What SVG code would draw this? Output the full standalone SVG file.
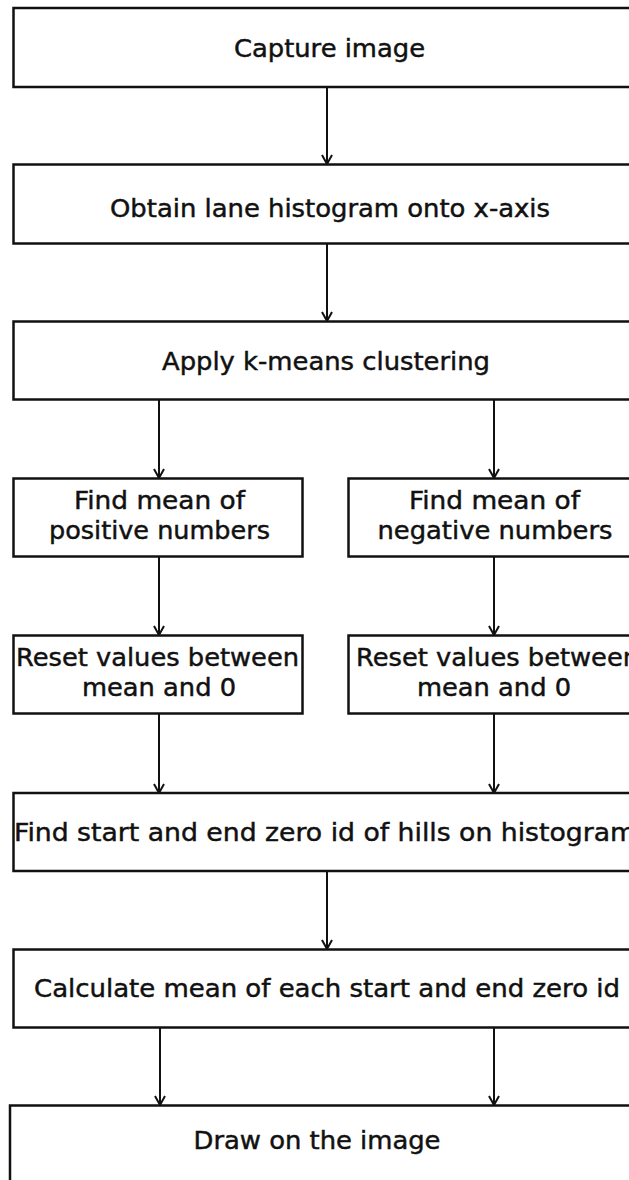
<svg xmlns="http://www.w3.org/2000/svg" width="629" height="1180" viewBox="0 0 629 1180">
<style>
.box{fill:#fff;stroke:#111;stroke-width:2.5}
.t{font-family:"DejaVu Sans",Verdana,sans-serif;font-size:24px;fill:#111;stroke:#111;stroke-width:0.45;text-anchor:middle}
.c{stroke:#111;stroke-width:2;fill:none}
</style>
<defs>
<marker id="ah" markerWidth="12" markerHeight="12" refX="10" refY="6" orient="auto" markerUnits="userSpaceOnUse" viewBox="0 0 12 12">
<path d="M1,1 L10,6 L1,11" fill="none" stroke="#111" stroke-width="2"/>
</marker>
</defs>
<rect width="629" height="1180" fill="#fff"/>
<g id="connectors">
<line class="c" x1="327" y1="87" x2="327" y2="164" marker-end="url(#ah)"/>
<line class="c" x1="327" y1="243" x2="327" y2="321" marker-end="url(#ah)"/>
<line class="c" x1="159" y1="399" x2="159" y2="478" marker-end="url(#ah)"/>
<line class="c" x1="494" y1="399" x2="494" y2="478" marker-end="url(#ah)"/>
<line class="c" x1="159" y1="556" x2="159" y2="635" marker-end="url(#ah)"/>
<line class="c" x1="494" y1="556" x2="494" y2="635" marker-end="url(#ah)"/>
<line class="c" x1="159" y1="714" x2="159" y2="793" marker-end="url(#ah)"/>
<line class="c" x1="494" y1="714" x2="494" y2="793" marker-end="url(#ah)"/>
<line class="c" x1="327" y1="871" x2="327" y2="949" marker-end="url(#ah)"/>
<line class="c" x1="160" y1="1027" x2="160" y2="1105" marker-end="url(#ah)"/>
<line class="c" x1="494" y1="1027" x2="494" y2="1105" marker-end="url(#ah)"/>
</g>
<g id="n1"><rect class="box" x="13.5" y="8" width="640" height="79"/><text class="t" x="329.5" y="57" textLength="191" lengthAdjust="spacingAndGlyphs">Capture image</text></g>
<g id="n2"><rect class="box" x="13.5" y="164.5" width="640" height="79"/><text class="t" x="330" y="217" textLength="440" lengthAdjust="spacingAndGlyphs">Obtain lane histogram onto x-axis</text></g>
<g id="n3"><rect class="box" x="13.5" y="321.5" width="640" height="78"/><text class="t" x="326" y="370" textLength="328" lengthAdjust="spacingAndGlyphs">Apply k-means clustering</text></g>
<g id="n4"><rect class="box" x="13.5" y="478.5" width="289" height="78"/><text class="t" x="159.5" y="509" textLength="171" lengthAdjust="spacingAndGlyphs">Find mean of</text><text class="t" x="159.5" y="539" textLength="221" lengthAdjust="spacingAndGlyphs">positive numbers</text></g>
<g id="n5"><rect class="box" x="348.5" y="478.5" width="300" height="78"/><text class="t" x="494.5" y="509" textLength="171" lengthAdjust="spacingAndGlyphs">Find mean of</text><text class="t" x="495" y="539" textLength="235" lengthAdjust="spacingAndGlyphs">negative numbers</text></g>
<g id="n6"><rect class="box" x="13.5" y="635.5" width="289" height="78"/><text class="t" x="157.5" y="666" textLength="283" lengthAdjust="spacingAndGlyphs">Reset values between</text><text class="t" x="159" y="696" textLength="154" lengthAdjust="spacingAndGlyphs">mean and 0</text></g>
<g id="n7"><rect class="box" x="348.5" y="635.5" width="300" height="78"/><text class="t" x="497.5" y="666" textLength="283" lengthAdjust="spacingAndGlyphs">Reset values between</text><text class="t" x="494" y="696" textLength="154" lengthAdjust="spacingAndGlyphs">mean and 0</text></g>
<g id="n8"><rect class="box" x="13.5" y="793" width="640" height="78"/><text class="t" x="325" y="841" textLength="622" lengthAdjust="spacingAndGlyphs">Find start and end zero id of hills on histogram</text></g>
<g id="n9"><rect class="box" x="13.5" y="949.5" width="640" height="78"/><text class="t" x="327" y="997" textLength="586" lengthAdjust="spacingAndGlyphs">Calculate mean of each start and end zero id</text></g>
<g id="n10"><rect class="box" x="10" y="1105.5" width="640" height="100"/><text class="t" x="317" y="1149" textLength="247" lengthAdjust="spacingAndGlyphs">Draw on the image</text></g>
</svg>
